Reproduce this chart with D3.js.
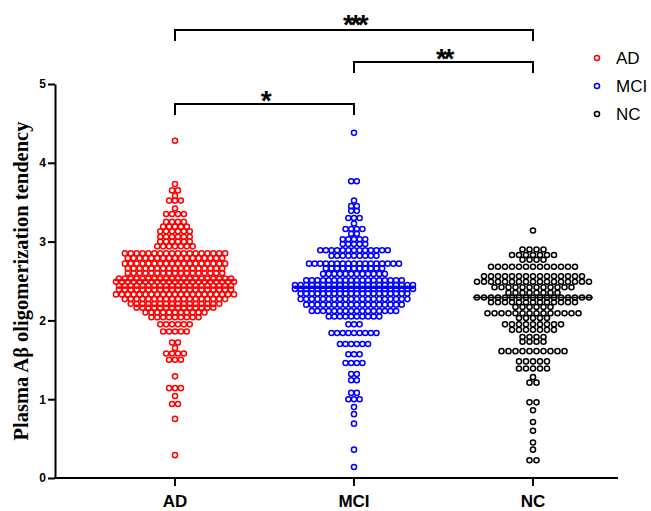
<!DOCTYPE html>
<html>
<head>
<meta charset="utf-8">
<script src="https://cdn.jsdelivr.net/npm/d3@7/dist/d3.min.js"></script>
<style>
  html, body { margin: 0; padding: 0; background: #fff; }
  svg { display: block; font-family: "Liberation Sans", Arial, sans-serif; }
</style>
</head>
<body>
<svg id="chart" width="651" height="511"></svg>
<script>
// groups and colours
const groups = ["AD", "MCI", "NC"];
const colors = ["#ff0000", "#0000ff", "#000000"];

// [value, number of points in that row]
const adRows = [
  [4.28, 1], [3.73, 1], [3.65, 2], [3.58, 1], [3.52, 3], [3.42, 1], [3.35, 4],
  [3.25, 4], [3.19, 5], [3.13, 6], [3.06, 6], [3.00, 6], [2.94, 7], [2.85, 18],
  [2.79, 17], [2.72, 18], [2.66, 17], [2.60, 17], [2.53, 20], [2.49, 21],
  [2.44, 20], [2.39, 20], [2.33, 21], [2.27, 18], [2.21, 16], [2.16, 14],
  [2.10, 11], [2.04, 9], [1.95, 6], [1.86, 5], [1.72, 2], [1.65, 1], [1.58, 4],
  [1.50, 3], [1.29, 1], [1.14, 3], [1.04, 1], [0.94, 2], [0.75, 1], [0.29, 1]
];
const mciRows = [
  [4.38, 1], [3.765, 2], [3.52, 1], [3.45, 2], [3.39, 2], [3.30, 3], [3.23, 1],
  [3.16, 4], [3.10, 2], [3.03, 5], [2.97, 5], [2.89, 13], [2.82, 9], [2.72, 17],
  [2.66, 11], [2.59, 12], [2.51, 18], [2.45, 22], [2.40, 22], [2.34, 20],
  [2.27, 20], [2.20, 18], [2.12, 16], [2.05, 10], [1.95, 3], [1.84, 9],
  [1.70, 6], [1.57, 3], [1.46, 4], [1.32, 2], [1.24, 2], [1.08, 2], [1.00, 3],
  [0.90, 1], [0.81, 1], [0.69, 1], [0.36, 1], [0.14, 1]
];
const ncRows = [
  [3.14, 1], [2.90, 4], [2.83, 7], [2.77, 4], [2.68, 13], [2.56, 15], [2.49, 17],
  [2.42, 12], [2.35, 8], [2.29, 17], [2.23, 13], [2.17, 6], [2.09, 14], [2.03, 5],
  [1.95, 9], [1.88, 7], [1.79, 4], [1.73, 4], [1.61, 10], [1.48, 5], [1.39, 5],
  [1.28, 1], [1.21, 2], [0.96, 2], [0.86, 1], [0.71, 1], [0.60, 1], [0.45, 1],
  [0.36, 1], [0.225, 2]
];
const medians = [2.51, 2.41, 2.29];
const yTicks = [0, 1, 2, 3, 4, 5];

// significance brackets: [from group, to group, label]
const brackets = [
  ["AD", "NC", "***"],
  ["MCI", "NC", "**"],
  ["AD", "MCI", "*"]
];
const bracketY = [30, 62, 104];
const starBase = [34, 68, 110];

const svg = d3.select("#chart");
const y = d3.scaleLinear().domain([0, 5]).range([478, 84]);
const x = d3.scalePoint().domain(groups).range([175, 533]);

const maxW = 118;
const r = 2.55;

[adRows, mciRows, ncRows].forEach((rows, gi) => {
  const cx = x(groups[gi]);
  const maxN = d3.max(rows, (d) => d[1]);
  const step = Math.min(7, maxW / (maxN - 1));
  const pts = [];
  rows.forEach(([v, n]) => {
    for (let i = 0; i < n; i++) pts.push({ v, dx: (i - (n - 1) / 2) * step });
  });

  svg.append("g")
    .selectAll("circle")
    .data(pts)
    .join("circle")
    .attr("cx", (d) => cx + d.dx)
    .attr("cy", (d) => y(d.v))
    .attr("r", r)
    .attr("fill", "none")
    .attr("stroke", colors[gi])
    .attr("stroke-width", 1.5);

  svg.append("line")
    .attr("x1", cx - 60)
    .attr("x2", cx + 60)
    .attr("y1", y(medians[gi]))
    .attr("y2", y(medians[gi]))
    .attr("stroke", colors[gi])
    .attr("stroke-width", 1.6);
});

// y axis
const yAxis = svg.append("g")
  .attr("transform", "translate(55,0)")
  .call(d3.axisLeft(y).tickValues(yTicks).tickFormat(d3.format("d")).tickSize(7).tickSizeOuter(0).tickPadding(2));
yAxis.select(".domain").attr("stroke-width", 2);
yAxis.selectAll(".tick line").attr("stroke-width", 2);
yAxis.selectAll(".tick text")
  .attr("font-size", 12)
  .attr("font-weight", 700)
  .attr("font-family", "Liberation Sans, Arial, sans-serif")
  .attr("fill", "#000");

// x axis
const xg = svg.append("g");
xg.append("line")
  .attr("x1", 54).attr("x2", 618)
  .attr("y1", y(0)).attr("y2", y(0))
  .attr("stroke", "#000").attr("stroke-width", 2);
groups.forEach((g) => {
  xg.append("line")
    .attr("x1", x(g)).attr("x2", x(g))
    .attr("y1", y(0)).attr("y2", y(0) + 8)
    .attr("stroke", "#000").attr("stroke-width", 2);
  xg.append("text")
    .attr("x", x(g))
    .attr("y", 507)
    .attr("text-anchor", "middle")
    .attr("font-size", 17)
    .attr("font-weight", 700)
    .text(g);
});

// y title
svg.append("text")
  .attr("transform", "translate(28,281) rotate(-90)")
  .attr("text-anchor", "middle")
  .attr("font-family", "Liberation Serif, 'Times New Roman', serif")
  .attr("font-size", 20.5)
  .attr("font-weight", 700)
  .text("Plasma Aβ oligomerization tendency");

// brackets
brackets.forEach(([a, b, label], i) => {
  const x1 = x(a), x2 = x(b), by = bracketY[i];
  svg.append("path")
    .attr("d", `M${x1},${by + 11}V${by}H${x2}V${by + 11}`)
    .attr("fill", "none")
    .attr("stroke", "#000")
    .attr("stroke-width", 2);
  svg.append("text")
    .attr("x", (x1 + x2) / 2)
    .attr("y", starBase[i])
    .attr("text-anchor", "middle")
    .attr("font-size", 28)
    .attr("font-weight", 700)
    .attr("letter-spacing", -3.5)
    .text(label);
});

// legend
groups.forEach((g, i) => {
  const ly = 58 + i * 28;
  svg.append("circle")
    .attr("cx", 597).attr("cy", ly).attr("r", r)
    .attr("fill", "none").attr("stroke", colors[i]).attr("stroke-width", 1.5);
  svg.append("text")
    .attr("x", 616).attr("y", ly + 6)
    .attr("font-size", 17)
    .text(g);
});
</script>
</body>
</html>
